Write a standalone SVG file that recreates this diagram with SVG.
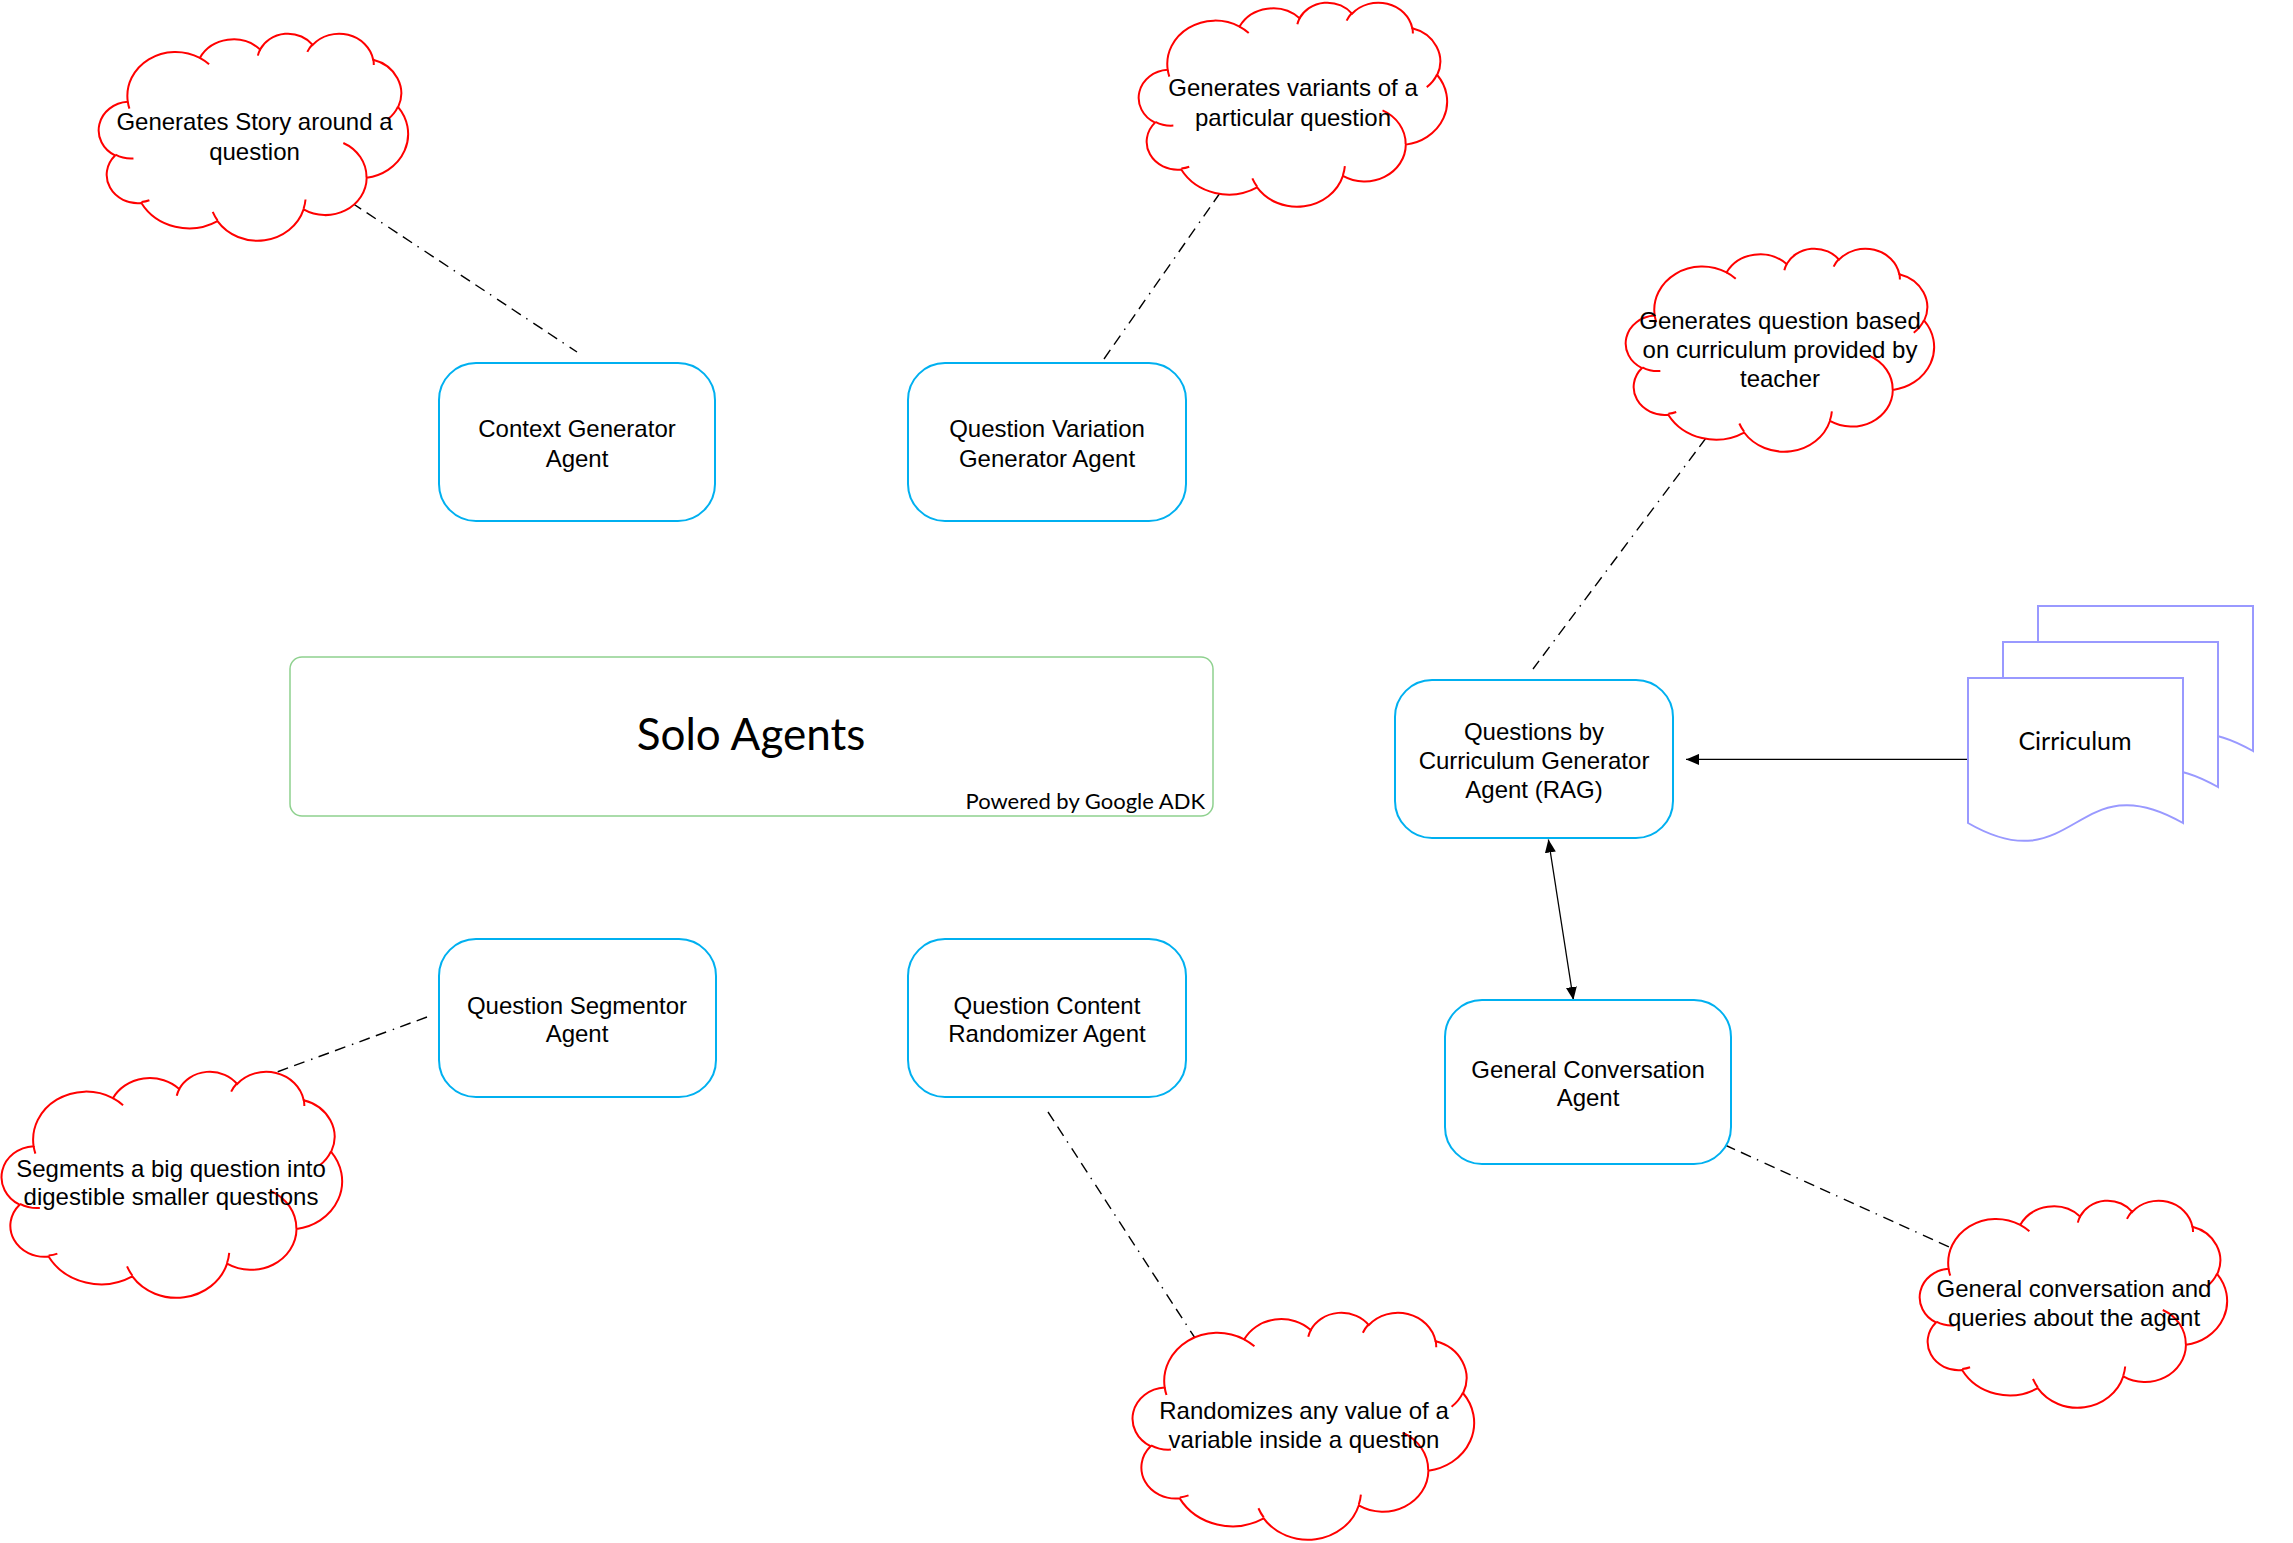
<svg xmlns="http://www.w3.org/2000/svg" xmlns:xlink="http://www.w3.org/1999/xlink" width="2293" height="1543" viewBox="0 0 2293 1543">
<style>
.bg{fill:#fff}
.node{fill:#fff;stroke:#00B0F0;stroke-width:2}
.solo{fill:#fff;stroke:#8FD18F;stroke-width:1.5}
.cb{fill:#fff;stroke:#FF0000;stroke-width:2;vector-effect:non-scaling-stroke}
.ci{fill:none;stroke:#FF0000;stroke-width:2;vector-effect:non-scaling-stroke}
.t{font-family:"Liberation Sans",Arial,sans-serif;font-size:24px;fill:#000;text-anchor:middle}
.c{font-family:Lato,"Open Sans",sans-serif;fill:#000}
.dd{fill:none;stroke:#000;stroke-width:1.4;stroke-dasharray:11 6.5 11 6.5 1.5 7}
.ar{fill:none;stroke:#000;stroke-width:1.3}
.doc{fill:#fff;stroke:#9999FF;stroke-width:2}
</style>
<defs>
<path id="cloudBody" class="cb" d="M3900,14370 A6753,9190 0 0 1 14005,5202 A5333,7267 0 0 1 22456,3431 A4365,5945 0 0 1 29833,2481 A4857,6595 0 0 1 38318,5576 A5333,7273 0 0 1 41818,15460 A6775,9220 0 0 1 37404,30204 A5785,7867 0 0 1 28555,36814 A6752,9215 0 0 1 16480,39265 A7720,10543 0 0 1 5804,35471 A4360,5918 0 0 1 2113,25550 A4345,5945 0 0 1 3900,14370 Z"/>
<path id="cloudInner" class="ci" d="M4693,26177 A4345,5945 0 0 1 2160,25380 M6928,34899 A4360,5918 0 0 1 5819,35281 M16478,39090 A6752,9215 0 0 1 15810,37349 M28827,34751 A6752,9215 0 0 1 28560,36660 M34129,22954 A5785,7867 0 0 1 37381,30090 M41798,15354 A5333,7273 0 0 1 40351,18029 M38324,5426 A4857,6595 0 0 1 38400,6690 M29078,3952 A4857,6595 0 0 1 29820,2339 M22141,4720 A4365,5945 0 0 1 22500,3330 M14000,5192 A6753,9190 0 0 1 15301,6541 M4127,15789 A6753,9190 0 0 1 3900,14371"/>
<marker id="arrow" viewBox="0 0 13 11" refX="13" refY="5.5" markerWidth="13" markerHeight="11" markerUnits="userSpaceOnUse" orient="auto-start-reverse"><path d="M0,0 L13,5.5 L0,11 Z" fill="#000"/></marker>
</defs>
<rect class="bg" x="0" y="0" width="2293" height="1543"/>

<g id="connectors">
<line class="dd" x1="352" y1="203" x2="577" y2="352"/>
<line class="dd" x1="1220" y1="193" x2="1104" y2="359"/>
<line class="dd" x1="1706" y1="438" x2="1533" y2="669"/>
<line class="dd" x1="427" y1="1017" x2="277" y2="1072"/>
<line class="dd" x1="1048" y1="1112" x2="1195" y2="1338"/>
<line class="dd" x1="1725" y1="1145" x2="1949" y2="1247"/>
<line class="ar" x1="1968" y1="759.4" x2="1686" y2="759.4" marker-end="url(#arrow)"/>
<line class="ar" x1="1548.4" y1="839.5" x2="1573.4" y2="1000" marker-start="url(#arrow)" marker-end="url(#arrow)"/>
</g>

<g id="cloud-story">
<use xlink:href="#cloudBody" transform="translate(100,33) scale(0.0071296,0.0047917)"/>
<use xlink:href="#cloudInner" transform="translate(100,33) scale(0.0071296,0.0047917)"/>
<text class="t" x="254.5" y="129.5">Generates Story around a</text>
<text class="t" x="254.5" y="159.5">question</text>
</g>

<g id="cloud-variants">
<use xlink:href="#cloudBody" transform="translate(1140,2) scale(0.0071065,0.0047222)"/>
<use xlink:href="#cloudInner" transform="translate(1140,2) scale(0.0071065,0.0047222)"/>
<text class="t" x="1293" y="96">Generates variants of a</text>
<text class="t" x="1293" y="126">particular question</text>
</g>

<g id="cloud-curriculum">
<use xlink:href="#cloudBody" transform="translate(1627,248) scale(0.0071065,0.0046991)"/>
<use xlink:href="#cloudInner" transform="translate(1627,248) scale(0.0071065,0.0046991)"/>
<text class="t" x="1780" y="328.5">Generates question based</text>
<text class="t" x="1780" y="357.5">on curriculum provided by</text>
<text class="t" x="1780" y="386.5">teacher</text>
</g>

<g id="cloud-segments">
<use xlink:href="#cloudBody" transform="translate(3,1071) scale(0.0078472,0.0052315)"/>
<use xlink:href="#cloudInner" transform="translate(3,1071) scale(0.0078472,0.0052315)"/>
<text class="t" x="171" y="1177">Segments a big question into</text>
<text class="t" x="171" y="1205">digestible smaller questions</text>
</g>

<g id="cloud-randomizes">
<use xlink:href="#cloudBody" transform="translate(1134,1312) scale(0.0078704,0.0052546)"/>
<use xlink:href="#cloudInner" transform="translate(1134,1312) scale(0.0078704,0.0052546)"/>
<text class="t" x="1304" y="1419">Randomizes any value of a</text>
<text class="t" x="1304" y="1448">variable inside a question</text>
</g>

<g id="cloud-general">
<use xlink:href="#cloudBody" transform="translate(1921,1200) scale(0.0070833,0.0047917)"/>
<use xlink:href="#cloudInner" transform="translate(1921,1200) scale(0.0070833,0.0047917)"/>
<text class="t" x="2074" y="1297">General conversation and</text>
<text class="t" x="2074" y="1325.5">queries about the agent</text>
</g>

<g id="node-context">
<rect class="node" x="439" y="363" width="276" height="158" rx="37" ry="37"/>
<text class="t" x="577" y="437">Context Generator</text>
<text class="t" x="577" y="466.5">Agent</text>
</g>

<g id="node-variation">
<rect class="node" x="908" y="363" width="278" height="158" rx="37" ry="37"/>
<text class="t" x="1047" y="437">Question Variation</text>
<text class="t" x="1047" y="466.5">Generator Agent</text>
</g>

<g id="node-solo">
<rect class="solo" x="290" y="657" width="923" height="159" rx="12" ry="12"/>
<text class="c" x="751" y="750" font-size="44" text-anchor="middle">Solo Agents</text>
<text class="c" x="1205" y="808.5" font-size="22" text-anchor="end">Powered by Google ADK</text>
</g>

<g id="node-rag">
<rect class="node" x="1395" y="680" width="278" height="158" rx="37" ry="37"/>
<text class="t" x="1534" y="740">Questions by</text>
<text class="t" x="1534" y="769">Curriculum Generator</text>
<text class="t" x="1534" y="798">Agent (RAG)</text>
</g>

<g id="node-cirriculum">
<path class="doc" d="M2038,606 H2253 V751 C2145.5,689 2145.5,813 2038,751 Z"/>
<path class="doc" d="M2003,642 H2218 V787 C2110.5,725 2110.5,849 2003,787 Z"/>
<path class="doc" d="M1968,678 H2183 V823 C2075.5,761 2075.5,885 1968,823 Z"/>
<text class="c" x="2075" y="749.5" font-size="25" text-anchor="middle">Cirriculum</text>
</g>

<g id="node-segmentor">
<rect class="node" x="439" y="939" width="277" height="158" rx="37" ry="37"/>
<text class="t" x="577" y="1014">Question Segmentor</text>
<text class="t" x="577" y="1042">Agent</text>
</g>

<g id="node-randomizer">
<rect class="node" x="908" y="939" width="278" height="158" rx="37" ry="37"/>
<text class="t" x="1047" y="1014">Question Content</text>
<text class="t" x="1047" y="1042">Randomizer Agent</text>
</g>

<g id="node-general">
<rect class="node" x="1445" y="1000" width="286" height="164" rx="37" ry="37"/>
<text class="t" x="1588" y="1078">General Conversation</text>
<text class="t" x="1588" y="1106">Agent</text>
</g>
</svg>
